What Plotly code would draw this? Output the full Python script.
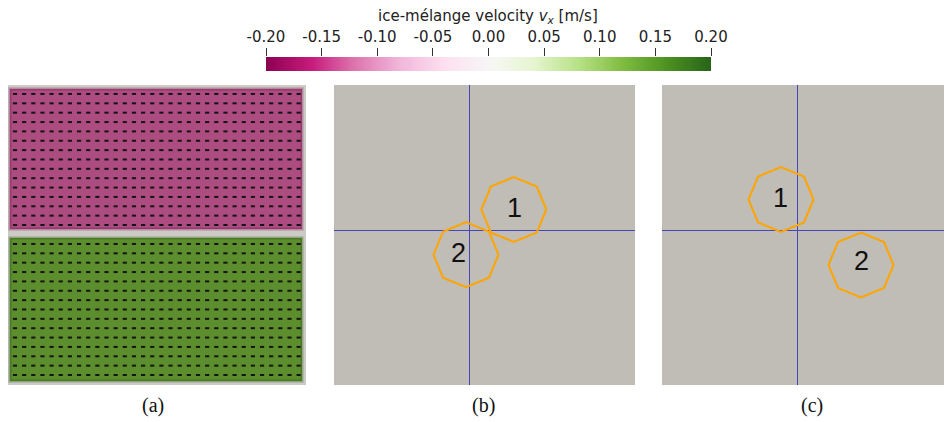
import numpy as np
import plotly.graph_objects as go

# page body adds an 8px offset; the figure is sized to fill the rest of the 952x422 view
OFF = 8
W, H = 952 - OFF, 422 - OFF

# ---------------- data ----------------
cb_ticks = [-0.20, -0.15, -0.10, -0.05, 0.00, 0.05, 0.10, 0.15, 0.20]
cb_labels = ["-0.20", "-0.15", "-0.10", "-0.05", "0.00", "0.05", "0.10", "0.15", "0.20"]

# panel (a): two ice-mélange blocks with uniform x-velocity
vx_upper = -0.13
vx_lower = 0.13
upper_x = [3, 295]
upper_y = [156, 296]
lower_x = [3, 295]
lower_y = [4, 147]
mesh_x = np.arange(8, 293, 9.15)          # 32 mesh columns
mesh_y_upper = np.arange(160, 293, 9.36)  # 15 mesh rows
mesh_y_lower = np.arange(10, 143, 9.36)   # 15 mesh rows

# panels (b), (c): floe positions relative to the crosshair
floe_labels = ["1", "2"]
floe_radius = 32.5
b_centers_x = [44.3, -3.5]
b_centers_y = [21.0, -24.2]
b_label_x = [45.0, -11.0]
b_label_y = [20.0, -25.0]
c_centers_x = [-16.5, 63.5]
c_centers_y = [31.0, -34.5]
c_label_x = [-17.0, 64.0]
c_label_y = [30.0, -33.0]

# ---------------- helpers (reference-pixel -> paper fractions) ----------------
def fx(p):
    return min(max((p - OFF) / W, 0.0), 1.0)

def fy(p):
    return min(max((H - (p - OFF)) / H, 0.0), 1.0)

def px_dom_x(a, b):
    return [fx(a), fx(b)]

def px_dom_y(top, bottom):
    return [fy(bottom), fy(top)]

colorscale = "PiYG"
fig = go.Figure()

# ---- panel (a) ----
for xs, ys, v in [(upper_x, upper_y, vx_upper), (lower_x, lower_y, vx_lower)]:
    fig.add_trace(go.Heatmap(
        z=[[v]], x=xs, y=ys, colorscale=colorscale, zmin=-0.2, zmax=0.2,
        showscale=False, opacity=0.8, hoverinfo="skip", xaxis="x", yaxis="y"))

mx, my = [], []
for yy in list(mesh_y_upper) + list(mesh_y_lower):
    for xx in mesh_x:
        mx.append(xx); my.append(yy)
fig.add_trace(go.Scatter(
    x=mx, y=my, mode="markers", xaxis="x", yaxis="y", hoverinfo="skip",
    marker=dict(symbol="line-ew", size=3, line=dict(width=2, color="#151515"))))

# ---- panels (b), (c) ----
ranges = {"2": ([-135.5, 165.5], [-154.5, 145.5]),
          "3": ([-135.5, 154.5], [-154.5, 145.5])}
ang = np.deg2rad(np.arange(0, 361, 45))
for ax, cxs, cys, lxs, lys in [("2", b_centers_x, b_centers_y, b_label_x, b_label_y),
                               ("3", c_centers_x, c_centers_y, c_label_x, c_label_y)]:
    xr, yr = ranges[ax]
    # crosshair through the origin
    fig.add_trace(go.Scatter(x=[0, 0, None, xr[0], xr[1]], y=[yr[0], yr[1], None, 0, 0],
                             mode="lines", line=dict(color="#4646bb", width=1),
                             xaxis="x" + ax, yaxis="y" + ax, hoverinfo="skip"))
    for cx, cy in zip(cxs, cys):
        fig.add_trace(go.Scatter(
            x=cx + floe_radius * np.cos(ang), y=cy + floe_radius * np.sin(ang),
            mode="lines", line=dict(color="#ffa500", width=2),
            xaxis="x" + ax, yaxis="y" + ax, hoverinfo="skip"))
    fig.add_trace(go.Scatter(
        x=lxs, y=lys, text=floe_labels, mode="text", xaxis="x" + ax, yaxis="y" + ax,
        textfont=dict(family="Liberation Sans, Arial", size=27, color="#111111"),
        hoverinfo="skip"))

# ---- colour bar (manual, labels on top) ----
fig.add_trace(go.Heatmap(
    z=[cb_ticks, cb_ticks], x=cb_ticks, y=[0, 1], colorscale=colorscale,
    zmin=-0.2, zmax=0.2, zsmooth="best", showscale=False, hoverinfo="skip",
    xaxis="x4", yaxis="y4"))

hidden = dict(visible=False, showgrid=False, zeroline=False, fixedrange=True, automargin=False)
fig.update_layout(
    template="none",
    width=W, height=H, autosize=False,
    margin=dict(l=0, r=0, t=0, b=0, pad=0, autoexpand=False),
    paper_bgcolor="white", plot_bgcolor="rgba(0,0,0,0)", showlegend=False,
    xaxis=dict(hidden, domain=px_dom_x(8, 306), range=[1, 299]),
    yaxis=dict(hidden, domain=px_dom_y(85, 385), range=[0, 300]),
    xaxis2=dict(hidden, domain=px_dom_x(334, 635), range=ranges["2"][0]),
    yaxis2=dict(hidden, domain=px_dom_y(85, 385), range=ranges["2"][1]),
    xaxis3=dict(hidden, domain=px_dom_x(662, 952), range=ranges["3"][0]),
    yaxis3=dict(hidden, domain=px_dom_y(85, 385), range=ranges["3"][1]),
    xaxis4=dict(domain=px_dom_x(266, 711), range=[-0.2, 0.2], side="top",
                tickvals=cb_ticks, ticktext=cb_labels, ticks="outside", ticklen=8,
                tickcolor="#333333", tickwidth=1, showgrid=False, zeroline=False,
                showline=False, fixedrange=True, anchor="y4", automargin=False,
                tickfont=dict(family="DejaVu Sans", size=15, color="#222222")),
    yaxis4=dict(hidden, domain=px_dom_y(57, 71), range=[0, 1], anchor="x4"),
)

shapes = []
shapes.append(dict(type="rect", xref="x domain", yref="y domain", x0=0, x1=1, y0=0, y1=1,
                   fillcolor="#cdcbc6", line_width=0, layer="below"))
shapes.append(dict(type="rect", xref="x2 domain", yref="y2 domain", x0=0, x1=1, y0=0, y1=1,
                   fillcolor="#c0bcb6", line_width=0, layer="below"))
shapes.append(dict(type="rect", xref="x3 domain", yref="y3 domain", x0=0, x1=1, y0=0, y1=1,
                   fillcolor="#c0bcb6", line_width=0, layer="below"))
for xs, ys in [(upper_x, upper_y), (lower_x, lower_y)]:
    shapes.append(dict(type="rect", xref="x", yref="y", x0=xs[0], x1=xs[1], y0=ys[0], y1=ys[1],
                       fillcolor="black", line_width=0, layer="below"))
shapes.append(dict(type="rect", xref="x", yref="y", x0=upper_x[0], x1=upper_x[1],
                   y0=upper_y[0], y1=upper_y[1], line=dict(color="rgba(120,20,80,0.35)", width=3)))
shapes.append(dict(type="rect", xref="x", yref="y", x0=lower_x[0], x1=lower_x[1],
                   y0=lower_y[0], y1=lower_y[1], line=dict(color="rgba(40,90,20,0.35)", width=3)))
fig.update_layout(shapes=shapes)

annotations = [
    dict(text="ice-mélange velocity <i>v<sub>x</sub></i> [m/s]", x=fx(488), y=fy(17),
         xref="paper", yref="paper", showarrow=False, xanchor="center", yanchor="middle",
         font=dict(family="DejaVu Sans", size=15, color="#222222")),
]
for lab, xp in [("(a)", 153), ("(b)", 483), ("(c)", 812)]:
    annotations.append(dict(text=lab, x=fx(xp), y=fy(405), xref="paper", yref="paper",
                            showarrow=False, xanchor="center", yanchor="middle",
                            font=dict(family="Liberation Serif", size=20, color="#111111")))
fig.update_layout(annotations=annotations)

fig.write_html("out.html")
